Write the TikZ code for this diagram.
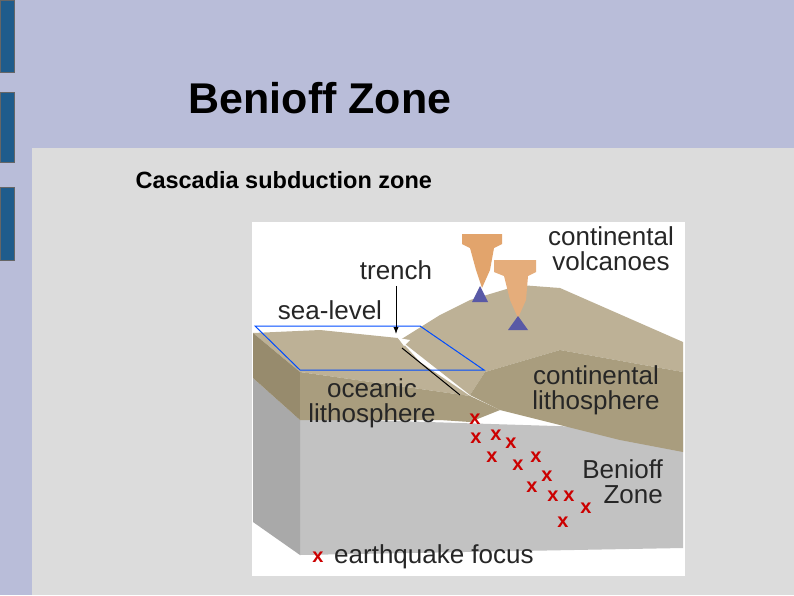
\documentclass[tikz,border=0pt]{standalone}
\usepackage{fontspec}
\setmainfont{Liberation Sans}
\usetikzlibrary{arrows.meta}
\begin{document}
\begin{tikzpicture}[x=1pt,y=-1pt,
  lbl/.style={font=\fontsize{26}{25}\selectfont,text=black!85,align=center,inner sep=0pt},
  quake/.style={text=red!80!black,font=\bfseries\fontsize{20}{20}\selectfont,inner sep=0pt}]
\definecolor{lav}{HTML}{B9BDD9}
\definecolor{pgray}{HTML}{DCDCDC}
\definecolor{bar}{HTML}{1F5C8C}
\definecolor{tan}{HTML}{A99D7E}
\definecolor{tanl}{HTML}{BDB196}
\definecolor{tand}{HTML}{978B6D}
\definecolor{gr}{HTML}{C2C2C2}
\definecolor{grd}{HTML}{A9A9A9}
\definecolor{plume}{HTML}{E2A46C}
\useasboundingbox (0,0) rectangle (794,595);
\fill[lav] (0,0) rectangle (794,595);
\fill[pgray] (32,148) rectangle (794,595);
\foreach \a/\b in {0/72,92/162,187/260}{\fill[bar] (0,\a) rectangle (14,\b); \draw[black!60] (0,\a) rectangle (14,\b);}
\node[font=\bfseries\fontsize{43}{43}\selectfont] (title) at (320,98) {Benioff Zone};
\node[font=\bfseries\fontsize{23.5}{24}\selectfont,anchor=west] (sub) at (132,180) {Cascadia subduction zone};
% diagram
\fill[white] (252,222) rectangle (685,576);
% gray block
\fill[gr] (300,418) -- (683,430) -- (683,548) -- (300,555) -- cycle;
\fill[grd] (253,378) -- (300,420) -- (300,555) -- (253,522) -- cycle;
% continental mass
\fill[tanl] (400,340) -- (440,315) -- (470,300) -- (520,285) -- (560,288) -- (683,342) -- (683,372) -- (560,350) -- (485,372) -- (470,395) -- cycle;
\fill[tan] (470,395) -- (485,372) -- (560,350) -- (683,372) -- (683,452) -- (620,440) -- (560,425) -- (500,410) -- cycle;
% oceanic slab
\fill[tanl] (253,333) -- (320,330) -- (398,338) -- (420,362) -- (470,396) -- (300,372) -- cycle;
\fill[tand] (253,333) -- (300,372) -- (300,420) -- (253,378) -- cycle;
\fill[tan] (300,372) -- (470,396) -- (500,410) -- (470,422) -- (440,420) -- (300,420) -- cycle;
\fill[white] (398,338) -- (404,346) -- (410,340) -- cycle;
% plumes
\fill[plume] (462,234) -- (502,234) -- (502,244) -- (494,248) -- (490,270) -- (482,288) -- (476,270) -- (470,248) -- (462,244) -- cycle;
\fill[plume!90!white] (494,260) -- (536,260) -- (536,272) -- (528,276) -- (526,300) -- (518,318) -- (510,300) -- (504,276) -- (494,272) -- cycle;
\fill[blue!30!gray] (480,286) -- (472,302) -- (488,302) -- cycle;
\fill[blue!30!gray] (518,316) -- (508,330) -- (528,330) -- cycle;
% sea level
\draw[blue!70!cyan,line width=1pt] (255,326) -- (420,326) -- (484,370) -- (300,370) -- cycle;
\coordinate (t1) at (402,348); \coordinate (t2) at (460,395);
\draw[black,line width=1pt] (t1) -- (t2);
% labels
\node[lbl] (trench) at (396,270) {trench};
\coordinate (tip) at (396,334);
\draw[-{Latex[length=7pt]},line width=1pt] (trench.south) ++(0,6) -- (tip);
\node[lbl] (sea) at (330,310) {sea-level};
\node[lbl] (volc) at (611,249) {continental\\volcanoes};
\node[lbl] (cl) at (596,390) {continental\\lithosphere};
\node[lbl] (ol) at (372,403) {oceanic\\lithosphere};
\node[lbl,align=right,anchor=east] (bz) at (663,482) {Benioff\\Zone};
\node[quake] (kx) at (318,557) {x};
\node[lbl,anchor=west] (eq) at (334,557) {earthquake focus};
\foreach \x/\y in {475/419,476/438,496/435,511/443,492/457,518/465,536/457,547/476,532/487,553/496,569/496,586/508,563/522}
  \node[quake] at (\x,\y) {x};
\end{tikzpicture}
\end{document}
